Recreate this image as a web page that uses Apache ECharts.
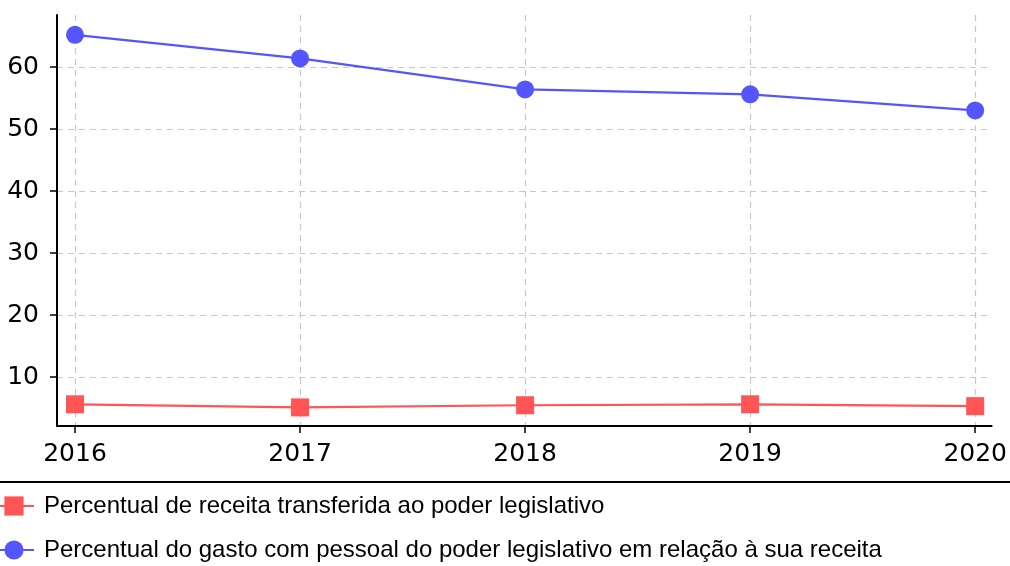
<!DOCTYPE html>
<html><head><meta charset="utf-8">
<script src="https://cdn.jsdelivr.net/npm/echarts@6/dist/echarts.min.js"></script>
<style>html,body{margin:0;padding:0;background:#fff}#c{width:1010px;height:566px}</style>
</head><body><div id="c"></div>
<script>
const years = [2016, 2017, 2018, 2019, 2020];
const yTicks = [10, 20, 30, 40, 50, 60];
const seriesNames = ['Percentual de receita transferida ao poder legislativo',
  'Percentual do gasto com pessoal do poder legislativo em relação à sua receita'];
const receitaTransferida = [5.6, 5.1, 5.45, 5.6, 5.3];
const gastoPessoal = [65.2, 61.4, 56.4, 55.6, 53.0];

const chart = echarts.init(document.getElementById('c'), null, {renderer: 'canvas'});
const tickFont = {fontFamily: 'DejaVu Sans', fontSize: 25, color: '#000'};
const grid = {show: true, lineStyle: {color: '#c8c8c8', width: 1.2, type: [6, 5]}};
const legendBase = {
  orient: 'vertical', left: -7, padding: 0,
  itemWidth: 40, itemHeight: 24,
  textStyle: {fontFamily: 'Liberation Sans', fontSize: 24, color: '#000', padding: [0, 0, 0, 5]}
};
chart.setOption({
  animation: false,
  backgroundColor: '#fff',
  grid: {left: 57, right: 17, top: 15, bottom: 140, containLabel: false},
  xAxis: {
    type: 'value', min: 2015.92, max: 2020.073,
    axisLine: {show: true, lineStyle: {color: '#000', width: 2}},
    axisTick: {show: true, customValues: years, length: 7, lineStyle: {color: '#000', width: 1.5}},
    axisLabel: Object.assign({customValues: years, margin: 16, formatter: v => String(v)}, tickFont),
    splitLine: grid
  },
  yAxis: {
    type: 'value', min: 2.1, max: 68.4,
    axisLine: {show: true, lineStyle: {color: '#000', width: 2}},
    axisTick: {show: true, customValues: yTicks, length: 7, lineStyle: {color: '#000', width: 1.5}},
    axisLabel: Object.assign({customValues: yTicks, margin: 18}, tickFont),
    splitLine: grid
  },
  legend: [
    Object.assign({top: 494, data: [seriesNames[0]]}, legendBase),
    Object.assign({top: 538, data: [seriesNames[1]]}, legendBase)
  ],
  graphic: [{type: 'line', shape: {x1: 0, y1: 482, x2: 1010, y2: 482}, style: {stroke: '#000', lineWidth: 2}}],
  series: [
    {name: seriesNames[0], type: 'line', data: years.map((y, i) => [y, receitaTransferida[i]]),
     symbol: 'rect', symbolSize: 18, color: '#ff5555', lineStyle: {width: 2.2, color: '#ff5555'},
     itemStyle: {color: '#ff5555'}},
    {name: seriesNames[1], type: 'line', data: years.map((y, i) => [y, gastoPessoal[i]]),
     symbol: 'circle', symbolSize: 18, color: '#5555ff', lineStyle: {width: 2.2, color: '#5555ff'},
     itemStyle: {color: '#5555ff'}}
  ]
});
</script></body></html>
